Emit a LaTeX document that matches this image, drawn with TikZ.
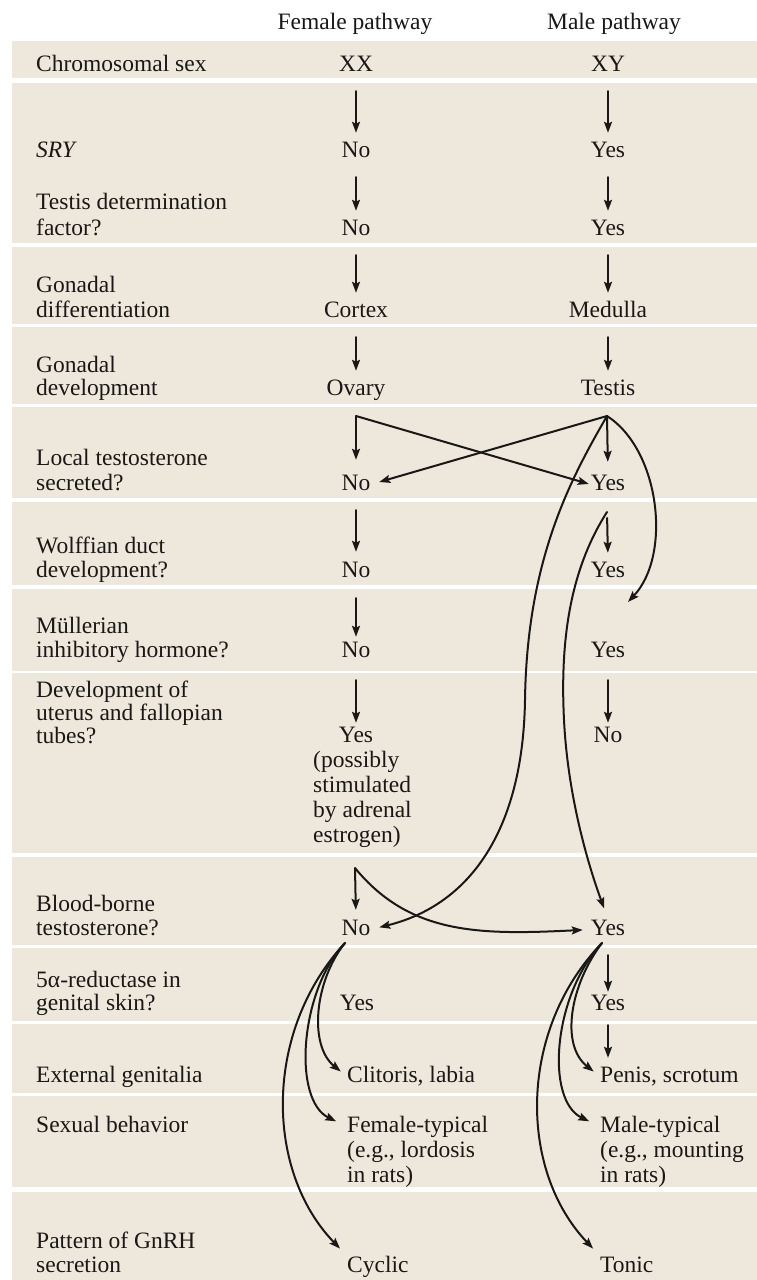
\documentclass[tikz,border=0pt]{standalone}
\usepackage{fontspec}
\setmainfont{Liberation Serif}
\usetikzlibrary{arrows.meta}
\definecolor{band}{RGB}{238,232,220}
\definecolor{ink}{RGB}{26,24,22}
\newcommand\diagfont{\fontsize{23.5}{26}\selectfont}
\begin{document}
\begin{tikzpicture}[x=1pt,y=-1pt,
  lab/.style={anchor=base west, inner sep=0pt, font=\diagfont, text=ink},
  val/.style={anchor=base, inner sep=0pt, font=\diagfont, text=ink, text height=16pt, text depth=5pt},
  vall/.style={anchor=base west, inner sep=0pt, font=\diagfont, text=ink, text height=16pt, text depth=5pt},
  arr/.style={draw=ink, line width=2pt, line cap=round, line join=round, -{Stealth[length=11pt,width=8pt,inset=2pt]}}]
\useasboundingbox (0,0) rectangle (757,1280);
\fill[white] (0,0) rectangle (757,1280);
\foreach \a/\b in {41/78,83/243,247/324,327/404,407/498,502/585,589/671,673/853,857/945,948/1021,1024/1093,1096/1187,1192/1280}
  \fill[band] (12,\a) rectangle (757,\b);

% headers
\node[val] (hf) at (355,29) {Female pathway};
\node[val] (hm) at (614,29) {Male pathway};

% left labels
\node[lab] (l1) at (36,71) {Chromosomal sex};
\node[lab] (l2) at (36,157) {\itshape SRY};
\node[lab] (l3a) at (36,209) {Testis determination};
\node[lab] (l3b) at (36,235) {factor?};
\node[lab] (l4a) at (36,292) {Gonadal};
\node[lab] (l4b) at (36,317) {differentiation};
\node[lab] (l5a) at (36,372) {Gonadal};
\node[lab] (l5b) at (36,395) {development};
\node[lab] (l6a) at (36,465) {Local testosterone};
\node[lab] (l6b) at (36,490) {secreted?};
\node[lab] (l7a) at (36,553) {Wolffian duct};
\node[lab] (l7b) at (36,577) {development?};
\node[lab] (l8a) at (36,633) {Müllerian};
\node[lab] (l8b) at (36,657) {inhibitory hormone?};
\node[lab] (l9a) at (36,697) {Development of};
\node[lab] (l9b) at (36,720) {uterus and fallopian};
\node[lab] (l9c) at (36,743) {tubes?};
\node[lab] (l10a) at (36,911) {Blood-borne};
\node[lab] (l10b) at (36,935) {testosterone?};
\node[lab] (l11a) at (36,987) {5α-reductase in};
\node[lab] (l11b) at (36,1010) {genital skin?};
\node[lab] (l12) at (36,1082) {External genitalia};
\node[lab] (l13) at (36,1132) {Sexual behavior};
\node[lab] (l14a) at (36,1248) {Pattern of GnRH};
\node[lab] (l14b) at (36,1272) {secretion};

% female values
\node[val] (f1) at (356,71) {XX};
\node[val] (f2) at (356,157) {No};
\node[val] (f3) at (356,235) {No};
\node[val] (f4) at (356,317) {Cortex};
\node[val] (f5) at (356,395) {Ovary};
\node[val] (f6) at (356,490) {No};
\node[val] (f7) at (356,577) {No};
\node[val] (f8) at (356,657) {No};
\node[val] (f9) at (356,742) {Yes};
\node[vall] (f9b) at (313,767) {(possibly};
\node[vall] (f9c) at (313,792) {stimulated};
\node[vall] (f9d) at (313,817) {by adrenal};
\node[vall] (f9e) at (313,842) {estrogen)};
\node[val] (f10) at (356,935) {No};
\node[val] (f11) at (357,1010) {Yes};
\node[vall] (f12) at (347,1082) {Clitoris, labia};
\node[vall] (f13) at (347,1132) {Female-typical};
\node[vall] (f13b) at (347,1157) {(e.g., lordosis};
\node[vall] (f13c) at (347,1182) {in rats)};
\node[vall] (f14) at (347,1272) {Cyclic};

% male values
\node[val] (m1) at (608,71) {XY};
\node[val] (m2) at (608,157) {Yes};
\node[val] (m3) at (608,235) {Yes};
\node[val] (m4) at (608,317) {Medulla};
\node[val] (m5) at (608,395) {Testis};
\node[val] (m6) at (608,490) {Yes};
\node[val] (m7) at (608,577) {Yes};
\node[val] (m8) at (608,657) {Yes};
\node[val] (m9) at (608,742) {No};
\node[val] (m10) at (608,935) {Yes};
\node[val] (m11) at (608,1010) {Yes};
\node[vall] (m12) at (600,1082) {Penis, scrotum};
\node[vall] (m13) at (600,1132) {Male-typical};
\node[vall] (m13b) at (600,1157) {(e.g., mounting};
\node[vall] (m13c) at (600,1182) {in rats)};
\node[vall] (m14) at (600,1272) {Tonic};

% straight column arrows
\foreach \p/\q in {1/2,2/3,3/4,4/5}{
  \draw[arr, shorten <=15pt, shorten >=8pt] (f\p.south) -- (f\q.north);
  \draw[arr, shorten <=15pt, shorten >=8pt] (m\p.south) -- (m\q.north);
}
\draw[arr, shorten <=15pt, shorten >=9pt] (f6.south) -- (f7.north);
\draw[arr, shorten <=16pt, shorten >=4pt] (f7.south) -- (f8.north);
\draw[arr, shorten <=18pt, shorten >=3pt] (f8.south) -- (f9.north);
\draw[arr, shorten <=18pt, shorten >=3pt] (m8.south) -- (m9.north);
\draw[arr, shorten <=15pt, shorten >=2pt] (m10.south) -- (m11.north);
\draw[arr, shorten <=10pt, shorten >=8pt] (m11.south) -- (m11.south |- m12.north);

% junction points
\coordinate (fc1) at (356,416);
\coordinate (mc1) at (607,416);
\coordinate (mc2) at (607,512);
\coordinate (fc2) at (355,868);
\coordinate (mhT) at (628,602);
\coordinate (ff) at (345,943);
\coordinate (mf) at (602,943);

% local testosterone
\draw[arr, shorten >=14pt] (fc1) -- (f6.north);
\draw[arr, shorten >=2pt] (fc1) -- (m6.west);
\draw[arr, shorten >=12pt] (mc1) -- (m6.north);
\draw[arr, shorten >=9pt] (mc1) -- (f6.east);
\draw[arr] (mc1) .. controls (660,450) and (672,555) .. (mhT);
\draw[arr, shorten >=9pt] (mc1) .. controls (570,480) and (527,560) .. (525,700)
      .. controls (523,830) and (470,905) .. (f10.east);

% Wolffian
\draw[arr, shorten <=6pt, shorten >=8pt] (mc2) -- (m7.north);
\draw[arr, shorten >=11pt] (mc2) .. controls (570,570) and (560,640) .. (564,720)
      .. controls (568,800) and (590,870) .. (m10.north);

% blood-borne female
\draw[arr, shorten >=9pt] (fc2) -- (f10.north);
\draw[arr, shorten >=8pt] (fc2) .. controls (410,935) and (480,935) .. (m10.west);

% fans
\draw[arr, shorten >=8pt] (ff) .. controls (315,980) and (308,1045) .. (f12.west);
\draw[arr, shorten >=12pt] (ff) .. controls (300,990) and (292,1100) .. (f13.west);
\draw[arr, shorten >=10pt] (ff) .. controls (264,1030) and (264,1170) .. (f14.north west);
\draw[arr, shorten >=8pt] (mf) .. controls (570,985) and (560,1045) .. (m12.west);
\draw[arr, shorten >=12pt] (mf) .. controls (553,995) and (545,1100) .. (m13.west);
\draw[arr, shorten >=10pt] (mf) .. controls (518,1030) and (518,1170) .. (m14.north west);
\end{tikzpicture}
\end{document}
